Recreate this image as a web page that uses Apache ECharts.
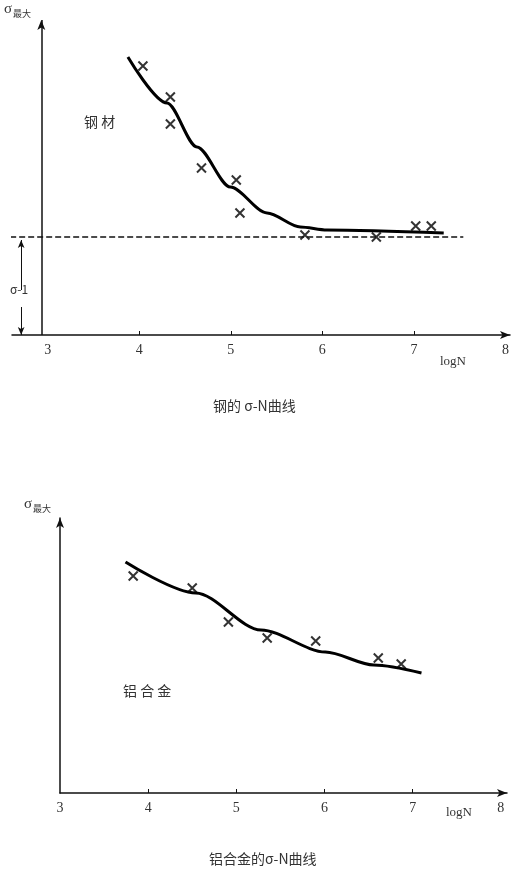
<!DOCTYPE html>
<html><head><meta charset="utf-8">
<script src="https://cdn.jsdelivr.net/npm/echarts@6/dist/echarts.min.js"></script>
<style>html,body{margin:0;background:#fff}#c{width:523px;height:870px}</style>
</head><body><div id="c"></div>
<script>
// 钢材曲线与试验点 (logN, σ)
var steelCurveX = [3.876, 4.303, 4.63, 4.995, 5.396, 5.76, 6.05, 7.326];
var steelCurveY = [278, 232, 188, 148, 122, 108, 105, 102];
var steelPtX = [4.04, 4.34, 4.34, 4.68, 5.06, 5.10, 5.81, 6.59, 7.02, 7.19];
var steelPtY = [269, 238, 211, 167, 155, 122, 100, 98, 109, 109];
var steelLimit = 98;
// 铝合金
var aluCurveX = [3.743, 4.54, 5.28, 6.01, 6.56, 7.10];
var aluCurveY = [231, 200, 163, 141, 128, 120];
var aluPtX = [3.83, 4.50, 4.91, 5.35, 5.90, 6.61, 6.87];
var aluPtY = [217, 205, 171, 155, 152, 135, 129];
var tickLabels = [3, 4, 5, 6, 7, 8];
var tickMarks = [4, 5, 6, 7];

function pairs(xs, ys) { return xs.map(function (x, i) { return [x, ys[i]]; }); }

var txt = '#333';
var font = '"Noto Sans CJK SC", sans-serif';
var cross = 'path://M0,0L10,10M10,0L0,10';

function xAx(idx, min, max) {
	return {
		gridIndex: idx, type: 'value', min: min, max: max,
		axisLine: { lineStyle: { color: '#111', width: 1.5 }, symbol: ['none', 'arrow'], symbolSize: [6, 10] },
		axisTick: { inside: true, length: 4, customValues: tickMarks, lineStyle: { color: '#111' } },
		axisLabel: { customValues: tickLabels, color: txt, fontSize: 14, fontFamily: 'Liberation Serif', margin: 8 },
		splitLine: { show: false }
	};
}

var charts = echarts.init(document.getElementById('c'));
var option = {
	animation: false,
	grid: [
		{ left: 12, right: 13, top: 20, bottom: 535 },
		{ left: 60, right: 16, top: 518, bottom: 77 }
	],
	xAxis: [xAx(0, 2.61, 8.05), xAx(1, 3, 8.07)],
	yAxis: [
		{ gridIndex: 0, type: 'value', min: 0, max: 315, show: false },
		{ gridIndex: 1, type: 'value', min: 0, max: 275,
		  axisLine: { show: true, lineStyle: { color: '#111', width: 1.5 }, symbol: ['none', 'arrow'], symbolSize: [6, 10] },
		  axisTick: { show: false }, axisLabel: { show: false }, splitLine: { show: false } }
	],
	series: [
		{
			name: '钢材', type: 'line', xAxisIndex: 0, yAxisIndex: 0, smooth: 0.3, smoothMonotone: 'x', symbol: 'none',
			lineStyle: { color: '#000', width: 3 }, data: pairs(steelCurveX, steelCurveY),
			markLine: {
				silent: true, symbol: 'none', label: { show: false },
				lineStyle: { type: 'solid', color: '#111', width: 1.5 },
				data: [
					[{ coord: [2.93, 0], symbol: 'none' },
					 { coord: [2.93, 315], symbol: 'arrow', symbolSize: [6, 10] }],
					[{ coord: [2.71, 45], symbol: 'none', lineStyle: { width: 1 } },
					 { coord: [2.71, 95], symbol: 'arrow', symbolSize: [5, 8] }],
					[{ coord: [2.71, 28], symbol: 'none', lineStyle: { width: 1 } },
					 { coord: [2.71, 0], symbol: 'arrow', symbolSize: [5, 8] }]
				]
			}
		},
		{
			name: '疲劳极限', type: 'line', xAxisIndex: 0, yAxisIndex: 0, symbol: 'none',
			lineStyle: { color: '#111', width: 1.5, type: 'dashed' },
			data: [[2.59, steelLimit], [7.54, steelLimit]]
		},
		{
			name: '钢材试验点', type: 'scatter', xAxisIndex: 0, yAxisIndex: 0, symbol: cross, symbolSize: 9,
			itemStyle: { color: 'none', borderColor: '#000', borderWidth: 2 }, data: pairs(steelPtX, steelPtY)
		},
		{
			name: '铝合金', type: 'line', xAxisIndex: 1, yAxisIndex: 1, smooth: 0.3, smoothMonotone: 'x', symbol: 'none',
			lineStyle: { color: '#000', width: 3 }, data: pairs(aluCurveX, aluCurveY)
		},
		{
			name: '铝合金试验点', type: 'scatter', xAxisIndex: 1, yAxisIndex: 1, symbol: cross, symbolSize: 9,
			itemStyle: { color: 'none', borderColor: '#000', borderWidth: 2 }, data: pairs(aluPtX, aluPtY)
		}
	],
	graphic: [
		{ type: 'text', left: 4, top: 2, style: { text: 'σ', fontSize: 15, fill: txt, fontFamily: 'Liberation Serif' } },
		{ type: 'text', left: 13, top: 9, style: { text: '最大', fontSize: 9, fill: txt, fontFamily: font } },
		{ type: 'text', left: 84, top: 115, style: { text: '钢 材', fontSize: 14, fill: txt, fontFamily: font } },
		{ type: 'text', left: 10, top: 283, style: { text: 'σ-1', fontSize: 12, fill: txt, fontFamily: font } },
		{ type: 'text', left: 440, top: 355, style: { text: 'logN', fontSize: 13, fill: txt, fontFamily: 'Liberation Serif', letterSpacing: 2 } },
		{ type: 'text', left: 213, top: 399, style: { text: '钢的 σ-N曲线', fontSize: 14, fill: txt, fontFamily: font, letterSpacing: 1 } },
		{ type: 'text', left: 24, top: 497, style: { text: 'σ', fontSize: 15, fill: txt, fontFamily: 'Liberation Serif' } },
		{ type: 'text', left: 33, top: 504, style: { text: '最大', fontSize: 9, fill: txt, fontFamily: font } },
		{ type: 'text', left: 123, top: 684, style: { text: '铝 合 金', fontSize: 14, fill: txt, fontFamily: font } },
		{ type: 'text', left: 446, top: 806, style: { text: 'logN', fontSize: 13, fill: txt, fontFamily: 'Liberation Serif', letterSpacing: 2 } },
		{ type: 'text', left: 209, top: 852, style: { text: '铝合金的σ-N曲线', fontSize: 14, fill: txt, fontFamily: font, letterSpacing: 1 } }
	]
};
charts.setOption(option);
</script></body></html>
